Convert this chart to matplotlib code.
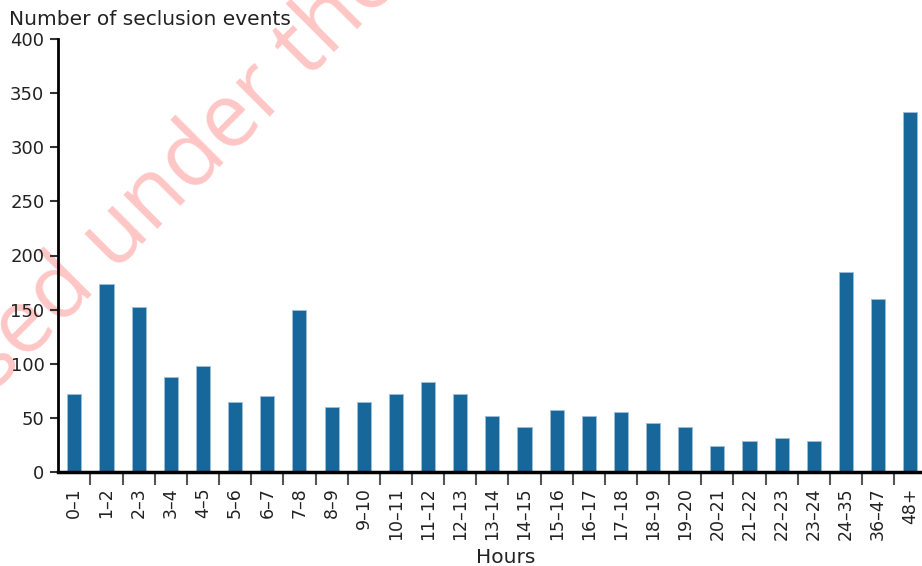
import numpy as np
import matplotlib
matplotlib.use("Agg")
import matplotlib.pyplot as plt

# hour bands and number of seclusion events
hours = ["0–1", "1–2", "2–3", "3–4", "4–5", "5–6", "6–7", "7–8", "8–9",
         "9–10", "10–11", "11–12", "12–13", "13–14", "14–15", "15–16",
         "16–17", "17–18", "18–19", "19–20", "20–21", "21–22", "22–23",
         "23–24", "24–35", "36–47", "48+"]
events = [72, 174, 152, 88, 98, 65, 70, 150, 60,
          65, 72, 83, 72, 52, 42, 57,
          52, 55, 45, 42, 24, 29, 31,
          29, 185, 160, 333]
yticks = [0, 50, 100, 150, 200, 250, 300, 350, 400]

plt.rcParams['font.family'] = ['DejaVu Sans']
txt_col = '#222222'
bar_col = '#18679a'

W, H = 922, 566
fig = plt.figure(figsize=(W / 100, H / 100), dpi=100)

# axes run a little past the right edge, like the original crop
x0, y0 = 58.3, 472
step = 32.15
ax = fig.add_axes([x0 / W, (H - y0) / H, 27 * step / W, (472 - 39) / H])
ax.patch.set_alpha(0)

# watermark, behind everything (axes background is transparent)
fig.text(122 / W, (H - 264) / H, "Licensed under the", fontsize=64,
         family=['Open Sans', 'DejaVu Sans'],
         color='#ffc6c6', rotation=45, rotation_mode='anchor',
         ha='center', va='baseline', zorder=-1)

pos = np.arange(len(hours))
ax.bar(pos, events, width=0.44, color=bar_col, edgecolor='#9cc0da',
       linewidth=0.6, zorder=3)

ax.set_xlim(-0.5, len(hours) - 0.5)
ax.set_ylim(0, 400)
ax.set_yticks(yticks)
ax.set_yticklabels([str(v) for v in yticks])

ax.set_xticks(pos)
ax.set_xticklabels(hours, rotation=90)
ax.set_xticks(np.arange(len(hours)) + 0.5, minor=True)
ax.tick_params(axis='x', which='major', length=0, pad=11,
               labelsize=12.5, labelcolor=txt_col)
ax.tick_params(axis='x', which='minor', length=9, width=1.5,
               color='#555555', direction='out')
ax.tick_params(axis='y', length=6, width=1.5, color='#333333',
               pad=4, labelsize=13, labelcolor=txt_col)

for s in ['top', 'right']:
    ax.spines[s].set_visible(False)
ax.spines['left'].set_linewidth(2)
ax.spines['left'].set_color('black')
ax.spines['bottom'].set_linewidth(2.5)
ax.spines['bottom'].set_color('black')
ax.spines['bottom'].set_zorder(4)

fig.text(9 / W, (H - 25) / H, "Number of seclusion events", fontsize=14.5,
         color=txt_col, ha='left', va='baseline')
fig.text(506 / W, (H - 563) / H, "Hours", fontsize=14.5,
         color=txt_col, ha='center', va='baseline')

fig.savefig("out.png", dpi=100)
